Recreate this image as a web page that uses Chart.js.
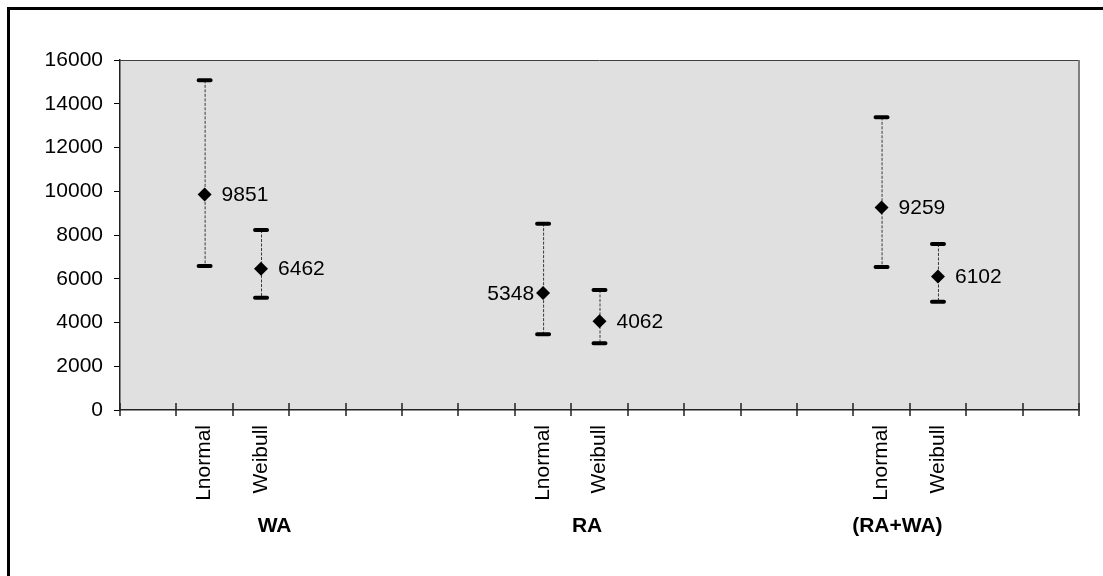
<!DOCTYPE html>
<html>
<head>
<meta charset="utf-8">
<script src="https://cdn.jsdelivr.net/npm/chart.js@4.4.1/dist/chart.umd.min.js"></script>
<style>
html,body{margin:0;padding:0;background:#fff;}
#wrap{width:1103px;height:576px;position:relative;}
</style>
</head>
<body>
<div id="wrap"><canvas id="c"></canvas></div>
<script>
// ---- data ----
const categories = ['', 'Lnormal', 'Weibull', '', '', '', '', 'Lnormal', 'Weibull', '', '', '', '', 'Lnormal', 'Weibull', '', ''];
const estimate = [null, 9851, 6462, null, null, null, null, 5348, 4062, null, null, null, null, 9259, 6102, null, null];
const upper    = [null, 15070, 8230, null, null, null, null, 8520, 5490, null, null, null, null, 13380, 7590, null, null];
const lower    = [null, 6580, 5130, null, null, null, null, 3460, 3050, null, null, null, null, 6540, 4950, null, null];
const groups = ['WA', 'RA', '(RA+WA)'];
const yTicks = [0, 2000, 4000, 6000, 8000, 10000, 12000, 14000, 16000];

// ---- layout/style (not data) ----
const FONT = '"Liberation Sans", Arial, sans-serif';
const groupPos = [2.24, 7.78, 13.28];          // category-unit centres of group labels
const labelLeft = [false, false, false, false, false, false, false, true, false, false, false, false, false, false, false, false, false];

const decor = {
  id: 'decor',
  beforeDraw(chart) {
    const {ctx, chartArea: a} = chart;
    ctx.save();
    ctx.fillStyle = '#e0e0e0';
    ctx.fillRect(a.left, a.top, a.right - a.left, a.bottom - a.top);
    ctx.restore();
  },
  beforeDatasetsDraw(chart) {
    const {ctx} = chart;
    const xs = chart.scales.x, ys = chart.scales.y;
    ctx.save();
    for (let i = 0; i < categories.length; i++) {
      if (upper[i] == null) continue;
      const x = xs.getPixelForValue(i);
      const yu = ys.getPixelForValue(upper[i]);
      const yl = ys.getPixelForValue(lower[i]);
      ctx.strokeStyle = '#3a3a3a';
      ctx.lineWidth = 1;
      ctx.setLineDash([3, 1.5]);
      ctx.beginPath();
      ctx.moveTo(x + 0.5, yu);
      ctx.lineTo(x + 0.5, yl);
      ctx.stroke();
      ctx.setLineDash([]);
      ctx.strokeStyle = '#000';
      ctx.lineWidth = 4;
      ctx.lineCap = 'round';
      ctx.beginPath();
      ctx.moveTo(x - 6, yu); ctx.lineTo(x + 6, yu);
      ctx.moveTo(x - 6, yl); ctx.lineTo(x + 6, yl);
      ctx.stroke();
      ctx.lineCap = 'butt';
    }
    ctx.restore();
  },
  afterDatasetsDraw(chart) {
    const {ctx} = chart;
    const xs = chart.scales.x, ys = chart.scales.y;
    ctx.save();
    ctx.font = '21px ' + FONT;
    ctx.fillStyle = '#000';
    ctx.textBaseline = 'middle';
    for (let i = 0; i < categories.length; i++) {
      if (estimate[i] == null) continue;
      const x = xs.getPixelForValue(i);
      const y = ys.getPixelForValue(estimate[i]);
      if (labelLeft[i]) {
        ctx.textAlign = 'right';
        ctx.fillText(String(estimate[i]), x - 9, y + 1);
      } else {
        ctx.textAlign = 'left';
        ctx.fillText(String(estimate[i]), x + 17, y + 1);
      }
    }
    ctx.restore();
  },
  afterDraw(chart) {
    const {ctx, chartArea: a} = chart;
    const xs = chart.scales.x;
    ctx.save();
    // plot border top/right
    ctx.strokeStyle = '#404040';
    ctx.lineWidth = 1;
    ctx.beginPath();
    ctx.moveTo(a.left, a.top + 0.5); ctx.lineTo(a.right, a.top + 0.5);
    ctx.stroke();
    ctx.strokeStyle = '#808080';
    ctx.lineWidth = 2;
    ctx.beginPath();
    ctx.moveTo(a.right, a.top); ctx.lineTo(a.right, a.bottom);
    ctx.stroke();
    // x ticks crossing the axis
    const w = xs.getPixelForValue(1) - xs.getPixelForValue(0);
    ctx.strokeStyle = '#222';
    ctx.lineWidth = 1.5;
    ctx.beginPath();
    for (let i = 0; i <= categories.length; i++) {
      const bx = Math.round(xs.getPixelForValue(0) - w / 2 + i * w);
      ctx.moveTo(bx, a.bottom - 7);
      ctx.lineTo(bx, a.bottom + 6);
    }
    ctx.stroke();
    // group labels
    ctx.font = 'bold 21px ' + FONT;
    ctx.fillStyle = '#000';
    ctx.textAlign = 'center';
    ctx.textBaseline = 'middle';
    groups.forEach((g, k) => {
      const gx = xs.getPixelForValue(0) + groupPos[k] * w;
      ctx.fillText(g, gx, a.bottom + 116);
    });
    // outer frame
    ctx.fillStyle = '#000';
    ctx.fillRect(7, 7, chart.width - 7, 3);
    ctx.fillRect(7, 7, 3, chart.height - 7);
    ctx.restore();
  }
};

new Chart(document.getElementById('c'), {
  type: 'line',
  data: {
    labels: categories,
    datasets: [{
      data: estimate,
      showLine: false,
      pointStyle: 'rectRot',
      pointRadius: 7,
      pointHoverRadius: 7,
      pointBackgroundColor: '#000',
      pointBorderColor: '#000',
      pointBorderWidth: 0
    }]
  },
  options: {
    responsive: true,
    maintainAspectRatio: false,
    animation: false,
    events: [],
    layout: {padding: {top: 60, right: 24, left: 0, bottom: 0}},
    plugins: {legend: {display: false}, tooltip: {enabled: false}},
    scales: {
      x: {
        type: 'category',
        offset: true,
        grid: {display: false, drawTicks: false},
        border: {display: true, color: '#222', width: 1.5},
        ticks: {
          autoSkip: false,
          maxRotation: 90,
          minRotation: 90,
          padding: 15,
          color: '#000',
          font: {family: FONT, size: 21}
        },
        afterFit(s) { s.height = 166; }
      },
      y: {
        min: 0,
        max: 16000,
        afterBuildTicks(s) { s.ticks = yTicks.map(v => ({value: v})); },
        grid: {drawOnChartArea: false, tickLength: 6, color: '#000', tickColor: '#000'},
        border: {display: true, color: '#222', width: 1.5},
        ticks: {
          padding: 11,
          color: '#000',
          font: {family: FONT, size: 21},
          callback: (v) => String(v)
        },
        afterFit(s) { s.width = 120; }
      }
    }
  },
  plugins: [decor]
});
</script>
</body>
</html>
